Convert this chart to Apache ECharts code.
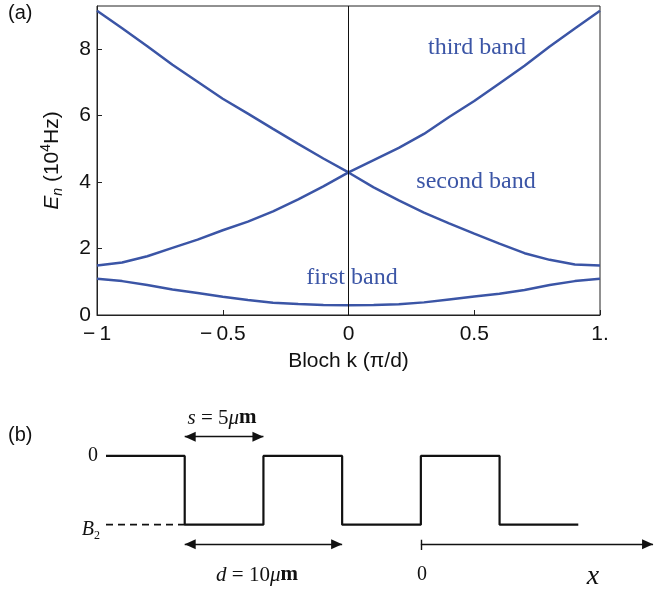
<!DOCTYPE html>
<html>
<head>
<meta charset="utf-8">
<script src="https://cdn.jsdelivr.net/npm/echarts@6/dist/echarts.min.js"></script>
<style>
html,body{margin:0;padding:0;background:#fff;}
#chart{width:657px;height:593px;}
</style>
</head>
<body>
<div id="chart"></div>
<script>
// ---- Panel (a): band structure data ----
var kValues = [-1,-0.9,-0.8,-0.7,-0.6,-0.5,-0.4,-0.3,-0.2,-0.1,0,0.1,0.2,0.3,0.4,0.5,0.6,0.7,0.8,0.9,1];
var firstBand  = [1.09,1.02,0.90,0.77,0.66,0.55,0.45,0.37,0.33,0.30,0.29,0.30,0.32,0.38,0.47,0.56,0.64,0.75,0.90,1.02,1.09];
var secondBand = [1.49,1.58,1.77,2.02,2.27,2.55,2.81,3.12,3.48,3.87,4.29,3.84,3.45,3.08,2.76,2.45,2.15,1.86,1.66,1.52,1.49];
var thirdBand  = [9.16,8.63,8.09,7.53,7.02,6.51,6.06,5.60,5.15,4.71,4.29,4.66,5.03,5.45,5.96,6.44,6.97,7.50,8.08,8.62,9.16];
var xTickLabels = {'-1':'\u2212\u20091','-0.5':'\u2212\u20090.5','0':'0','0.5':'0.5','1':'1.'};
var yTicks = [0,2,4,6,8];

// ---- Panel (b): schematic potential (x in micrometres, level B2 = -1) ----
var waveX = [-20,-15,-15,-10,-10,-5,-5,0,0,5,5,10];
var waveY = [0,0,-1,-1,0,0,-1,-1,0,0,-1,-1];
var dashX = [-20,-15];
var dashY = [-1,-1];
var sArrowX = [-15,-10];      // s = 5 um
var sArrowY = 0.28;
var dArrowX = [-15,-5];       // d = 10 um
var dArrowY = -1.285;
var xAxisArrowX = [0,14.75];
var originTickY = [-1.22,-1.37];

var blue = '#3b55a6';
// arrow head whose tip sits at the centre of its (square) bounding box
var arrowHead = 'path://M0,0 L5,11 L-5,11 Z M-11,-11 M11,11';

function pairs(xs, ys){ return xs.map(function(x,i){ return [x, ys[i]]; }); }

var serif = 'Liberation Serif, Times New Roman, serif';
var sans = 'Liberation Sans, Arial, sans-serif';

var chart = echarts.init(document.getElementById('chart'), null, {renderer:'canvas'});
var option = {
  animation: false,
  backgroundColor: '#fff',
  grid: [
    {left:97, top:6, width:503, height:309, show:true, borderColor:'#222', borderWidth:1, backgroundColor:'transparent'},
    {left:106, top:421.6, width:553, height:137.4, show:false}
  ],
  xAxis: [
    {type:'value', gridIndex:0, min:-1, max:1, interval:0.5,
     axisLine:{onZero:false, lineStyle:{color:'#222', width:1}},
     axisTick:{inside:true, length:5, lineStyle:{color:'#222'}},
     splitLine:{show:false},
     axisLabel:{color:'#111', fontSize:21, fontFamily:sans, margin:9,
       formatter:function(v){ var key = String(Math.round(v*10)/10); return xTickLabels[key] !== undefined ? xTickLabels[key] : ''; }},
     name:'Bloch k (\u03c0/d)', nameLocation:'middle', nameGap:36,
     nameTextStyle:{color:'#111', fontSize:21, fontFamily:sans}
    },
    {type:'value', gridIndex:1, min:-20, max:15, show:false}
  ],
  yAxis: [
    {type:'value', gridIndex:0, min:0, max:9.3, interval:2,
     axisLine:{onZero:false, lineStyle:{color:'#222', width:1}},
     axisTick:{inside:true, length:5, lineStyle:{color:'#222'}},
     splitLine:{show:false},
     axisLabel:{color:'#111', fontSize:21, fontFamily:sans, margin:6, showMaxLabel:false,
       formatter:function(v){ return yTicks.indexOf(v) >= 0 ? String(v) : ''; }},
     name:'{i|E}{sub|n} (10{sup|4}Hz)', nameLocation:'middle', nameGap:32, nameRotate:90,
     nameTextStyle:{color:'#111', fontSize:21, fontFamily:sans,
       rich:{
         i:{fontStyle:'italic', fontSize:21, fontFamily:sans, lineHeight:26},
         sub:{fontStyle:'italic', fontSize:14, fontFamily:sans, verticalAlign:'bottom'},
         sup:{fontSize:14, fontFamily:sans, verticalAlign:'top'}
       }}
    },
    {type:'value', gridIndex:1, min:-1.5, max:0.5, show:false}
  ],
  series: [
    {type:'line', name:'first band', xAxisIndex:0, yAxisIndex:0, data:pairs(kValues, firstBand),
     showSymbol:false, lineStyle:{color:blue, width:2.5}, itemStyle:{color:blue},
     markLine:{silent:true, symbol:['none','none'], label:{show:false},
       lineStyle:{color:'#111', width:1, type:'solid'}, data:[{xAxis:0}]}},
    {type:'line', name:'second band', xAxisIndex:0, yAxisIndex:0, data:pairs(kValues, secondBand),
     showSymbol:false, lineStyle:{color:blue, width:2.5}, itemStyle:{color:blue}},
    {type:'line', name:'third band', xAxisIndex:0, yAxisIndex:0, data:pairs(kValues, thirdBand),
     showSymbol:false, lineStyle:{color:blue, width:2.5}, itemStyle:{color:blue}},

    {type:'line', xAxisIndex:1, yAxisIndex:1, data:pairs(waveX, waveY),
     showSymbol:false, lineStyle:{color:'#111', width:2.2}, itemStyle:{color:'#111'}},
    {type:'line', xAxisIndex:1, yAxisIndex:1, data:pairs(dashX, dashY),
     showSymbol:false, lineStyle:{color:'#111', width:1.6, type:[7,5]}, itemStyle:{color:'#111'}},
    {type:'lines', coordinateSystem:'cartesian2d', xAxisIndex:1, yAxisIndex:1,
     symbol:[arrowHead, arrowHead], symbolSize:22,
     lineStyle:{color:'#111', width:1.4, opacity:1}, itemStyle:{color:'#111'},
     data:[
       {coords:[[sArrowX[0], sArrowY],[sArrowX[1], sArrowY]]},
       {coords:[[dArrowX[0], dArrowY],[dArrowX[1], dArrowY]]}
     ]},
    {type:'lines', coordinateSystem:'cartesian2d', xAxisIndex:1, yAxisIndex:1,
     symbol:['none', arrowHead], symbolSize:22,
     lineStyle:{color:'#111', width:1.4, opacity:1}, itemStyle:{color:'#111'},
     data:[{coords:[[xAxisArrowX[0], dArrowY],[xAxisArrowX[1], dArrowY]]}]},
    {type:'lines', coordinateSystem:'cartesian2d', xAxisIndex:1, yAxisIndex:1,
     symbol:['none','none'],
     lineStyle:{color:'#111', width:1.4, opacity:1},
     data:[{coords:[[xAxisArrowX[0], originTickY[0]],[xAxisArrowX[0], originTickY[1]]]}]}
  ],
  graphic: [
    {type:'text', left:8, top:3, style:{text:'(a)', fontSize:20, fontFamily:sans, fill:'#111'}},
    {type:'text', left:8, top:425, style:{text:'(b)', fontSize:20, fontFamily:sans, fill:'#111'}},
    {type:'text', x:477, y:48, style:{text:'third band', fontSize:24, fontFamily:serif, fill:blue, align:'center', verticalAlign:'middle'}},
    {type:'text', x:476, y:182, style:{text:'second band', fontSize:24, fontFamily:serif, fill:blue, align:'center', verticalAlign:'middle'}},
    {type:'text', x:352, y:278, style:{text:'first band', fontSize:24, fontFamily:serif, fill:blue, align:'center', verticalAlign:'middle'}},
    {type:'text', x:98, y:456, style:{text:'0', fontSize:20, fontFamily:serif, fill:'#111', align:'right', verticalAlign:'middle'}},
    {type:'text', x:100, y:530, style:{text:'{i|B}{sub|2}', align:'right', verticalAlign:'middle',
      rich:{i:{fontSize:20, fontStyle:'italic', fontFamily:serif, fill:'#111', lineHeight:24},
            sub:{fontSize:12, fontFamily:serif, fill:'#111', verticalAlign:'bottom'}}}},
    {type:'text', x:222, y:418, style:{text:'{i|s} = 5{i|\u03bc}{b|m}', align:'center', verticalAlign:'middle', fontSize:21, fontFamily:serif, fill:'#111',
      rich:{i:{fontSize:21, fontStyle:'italic', fontFamily:serif, fill:'#111'},
            b:{fontSize:21, fontWeight:'bold', fontFamily:serif, fill:'#111'}}}},
    {type:'text', x:257, y:575, style:{text:'{i|d} = 10{i|\u03bc}{b|m}', align:'center', verticalAlign:'middle', fontSize:21, fontFamily:serif, fill:'#111',
      rich:{i:{fontSize:21, fontStyle:'italic', fontFamily:serif, fill:'#111'},
            b:{fontSize:21, fontWeight:'bold', fontFamily:serif, fill:'#111'}}}},
    {type:'text', x:422, y:575, style:{text:'0', fontSize:20, fontFamily:serif, fill:'#111', align:'center', verticalAlign:'middle'}},
    {type:'text', x:593, y:577, style:{text:'x', fontSize:28, fontStyle:'italic', fontFamily:serif, fill:'#111', align:'center', verticalAlign:'middle'}}
  ]
};
chart.setOption(option);
</script>
</body>
</html>
